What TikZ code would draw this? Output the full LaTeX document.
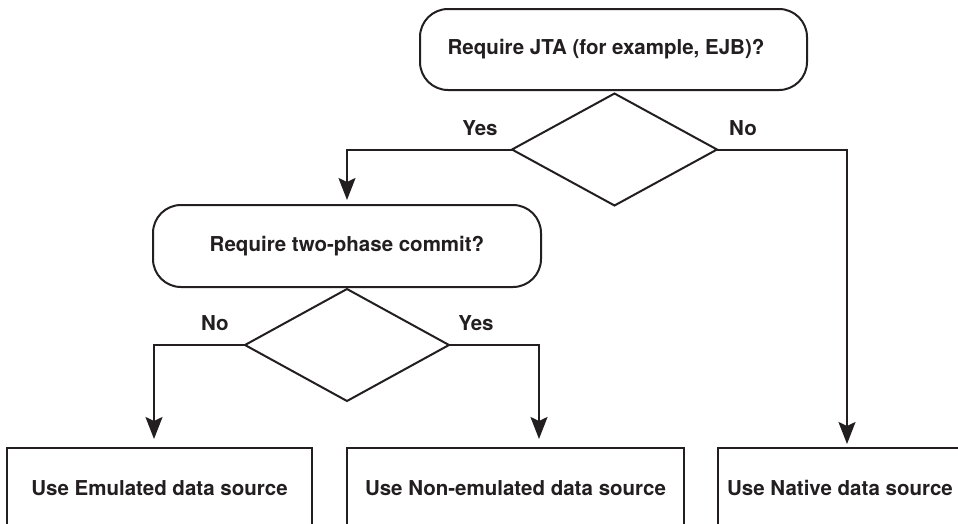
\documentclass[tikz,border=0pt]{standalone}
\usepackage{fontspec}
\setmainfont{TeX Gyre Heros}
\usetikzlibrary{shapes.geometric,arrows.meta}
\definecolor{ink}{HTML}{231F20}
\begin{document}
\begin{tikzpicture}[x=1pt,y=-1pt,
  every node/.style={font=\fontsize{20.5}{24}\selectfont\bfseries, text=ink},
  rbox/.style={draw=ink, line width=2pt, rounded corners=28pt, inner sep=0pt, outer sep=0pt},
  sbox/.style={draw=ink, line width=2pt, inner sep=0pt, outer sep=0pt},
  dia/.style={draw=ink, line width=2pt, diamond, inner sep=0pt, outer sep=0pt},
  conn/.style={draw=ink, line width=2pt, -{Stealth[length=22pt,width=17pt,inset=4pt]}},
  lbl/.style={inner sep=0pt}]
\useasboundingbox (0,0) rectangle (958,523);
\clip (0,0) rectangle (958,523);
\fill[white] (0,0) rectangle (958,523);
% decision boxes
\node[rbox, minimum width=387pt, minimum height=81pt] (q1) at (613.5,49.5) {};
\node at (606,49) {Require JTA (for example, EJB)?};
\node[dia, minimum width=205pt, minimum height=112pt] (d1) at (614.5,149.5) {};
\node[rbox, minimum width=388pt, minimum height=82pt] (q2) at (347,246) {Require two-phase commit?};
\node[dia, minimum width=204pt, minimum height=112pt] (d2) at (347,345) {};
% result boxes
\node[sbox, minimum width=305pt, minimum height=80pt] (b1) at (159.5,488) {Use Emulated data source};
\node[sbox, minimum width=337pt, minimum height=80pt] (b2) at (515.5,488) {Use Non-emulated data source};
\node[sbox, minimum width=244pt, minimum height=80pt] (b3) at (840,488) {Use Native data source};
% connectors
\draw[conn, shorten >=5pt] (d1.west) -| (q2.north);
\draw[conn, shorten >=4pt] (d1.east) -| ([xshift=7pt]b3.north);
\draw[conn, shorten >=9pt] (d2.west) -| ([xshift=-5.5pt]b1.north);
\draw[conn, shorten >=9pt] (d2.east) -| ([xshift=23.5pt]b2.north);
% labels
\node[lbl] (y1) at (480,128) {Yes};
\node[lbl] (n1) at (743,128) {No};
\node[lbl] (n2) at (215,323) {No};
\node[lbl] (y2) at (476,323) {Yes};
\end{tikzpicture}
\end{document}
